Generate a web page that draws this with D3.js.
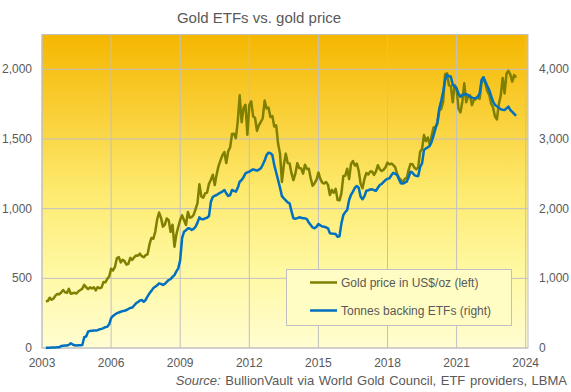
<!DOCTYPE html>
<html>
<head>
<meta charset="utf-8">
<script src="https://cdn.jsdelivr.net/npm/d3@7"></script>
<style>
  body { margin: 0; background: #fff; }
  svg { display: block; font-family: "Liberation Sans", Arial, sans-serif; }
  .tick-label { fill: #595959; font-size: 12px; }
</style>
</head>
<body>
<svg id="chart" width="571" height="392"></svg>
<script>
// monthly series, first point March 2003, last point August 2023
var startYear = 2003, startMonth = 3;

// gold price, US$/oz, month end (left axis)
var goldPrice = [
  335, 337, 361, 346, 355, 376, 388, 386, 398, 416,                  // 2003
  400, 396, 424, 389, 393, 396, 391, 407, 416, 426, 453, 436,        // 2004
  422, 435, 428, 436, 414, 437, 429, 433, 473, 471, 496, 513,        // 2005
  569, 556, 582, 644, 653, 614, 633, 624, 599, 604, 647, 632,        // 2006
  651, 664, 662, 677, 659, 651, 666, 672, 743, 790, 784, 834,        // 2007
  923, 972, 934, 871, 886, 930, 918, 833, 885, 727, 815, 870,        // 2008
  920, 952, 917, 883, 976, 935, 939, 956, 996, 1040, 1176, 1088,     // 2009
  1079, 1110, 1116, 1179, 1208, 1244, 1169, 1246, 1307, 1347, 1384, 1406, // 2010
  1327, 1411, 1439, 1536, 1537, 1506, 1629, 1814, 1620, 1722, 1746, 1531, // 2011
  1744, 1770, 1663, 1651, 1558, 1599, 1622, 1649, 1776, 1719, 1726, 1658, // 2012
  1665, 1589, 1598, 1467, 1395, 1192, 1315, 1395, 1327, 1324, 1253, 1205, // 2013
  1251, 1327, 1292, 1289, 1251, 1315, 1285, 1286, 1217, 1164, 1183, 1206, // 2014
  1260, 1214, 1187, 1180, 1191, 1171, 1098, 1135, 1114, 1142, 1062, 1060, // 2015
  1112, 1235, 1237, 1286, 1212, 1321, 1342, 1309, 1323, 1272, 1178, 1146, // 2016
  1213, 1256, 1245, 1266, 1266, 1242, 1268, 1312, 1283, 1270, 1280, 1297, // 2017
  1331, 1318, 1324, 1313, 1298, 1250, 1221, 1207, 1187, 1215, 1218, 1279, // 2018
  1321, 1319, 1295, 1282, 1296, 1409, 1428, 1528, 1485, 1511, 1460, 1523, // 2019
  1582, 1586, 1609, 1703, 1716, 1768, 1965, 1971, 1887, 1880, 1763, 1888, // 2020
  1864, 1717, 1691, 1768, 1900, 1763, 1808, 1814, 1743, 1781, 1785, 1806, // 2021
  1788, 1901, 1942, 1896, 1843, 1817, 1753, 1726, 1661, 1641, 1750, 1812, // 2022
  1938, 1827, 1969, 1990, 1962, 1912, 1960, 1942                      // 2023
];

// tonnes of gold backing ETFs (right axis)
var etfTonnes = [
  3, 4, 5, 6, 7, 8, 9, 10, 30, 33,                                   // 2003
  35, 36, 45, 67, 50, 38, 36, 38, 40, 42, 155, 165,                  // 2004
  234, 245, 248, 250, 252, 255, 268, 275, 285, 300, 306, 340,        // 2005
  430, 460, 480, 498, 510, 520, 530, 535, 545, 560, 575, 580,        // 2006
  610, 641, 660, 680, 689, 664, 690, 740, 785, 820, 860, 880,        // 2007
  900, 928, 920, 904, 920, 950, 976, 990, 1020, 1047, 1100, 1143,    // 2008
  1263, 1580, 1669, 1690, 1718, 1715, 1695, 1710, 1741, 1800, 1876, 1850, // 2009
  1847, 1860, 1870, 1894, 2100, 2171, 2185, 2196, 2215, 2230, 2244, 2268, // 2010
  2220, 2182, 2196, 2268, 2255, 2244, 2300, 2387, 2411, 2450, 2507, 2520, // 2011
  2531, 2550, 2565, 2555, 2545, 2560, 2579, 2630, 2690, 2770, 2804, 2795, // 2012
  2770, 2627, 2520, 2411, 2300, 2180, 2148, 2120, 2090, 2076, 1960, 1861, // 2013
  1855, 1865, 1876, 1870, 1862, 1861, 1850, 1800, 1765, 1730, 1718, 1740, // 2014
  1779, 1760, 1745, 1741, 1730, 1718, 1646, 1642, 1640, 1636, 1598, 1605, // 2015
  1789, 1909, 1950, 1981, 2124, 2200, 2244, 2300, 2325, 2300, 2172, 2135, // 2016
  2180, 2258, 2265, 2275, 2278, 2265, 2258, 2300, 2340, 2355, 2385, 2411, // 2017
  2430, 2435, 2480, 2516, 2500, 2483, 2420, 2363, 2360, 2375, 2387, 2450, // 2018
  2531, 2516, 2483, 2469, 2470, 2600, 2651, 2840, 2866, 2880, 2900, 2961, // 2019
  3050, 3150, 3248, 3440, 3550, 3679, 3847, 3918, 3905, 3894, 3780, 3750, // 2020
  3727, 3650, 3607, 3631, 3640, 3645, 3630, 3607, 3595, 3583, 3590, 3597, // 2021
  3655, 3847, 3886, 3822, 3760, 3703, 3620, 3535, 3488, 3470, 3450, 3426, // 2022
  3420, 3416, 3440, 3464, 3416, 3390, 3360, 3334                      // 2023
];

var yearTicks = [2003, 2006, 2009, 2012, 2015, 2018, 2021, 2024];
var priceTicks = [0, 500, 1000, 1500, 2000];
var tonneTicks = [0, 1000, 2000, 3000, 4000];

var seriesNames = ["Gold price in US$/oz (left)", "Tonnes backing ETFs (right)"];
var seriesColors = ["#808000", "#0070c0"];

var svg = d3.select("#chart");
var plot = { left: 42, right: 528, top: 34.5, bottom: 348 };

var x = d3.scaleLinear()
          .domain([2003, 2024.1])
          .range([plot.left, plot.right]);
var yPrice = d3.scaleLinear()
               .domain([0, 2250])
               .range([plot.bottom, plot.top]);
var yTonnes = d3.scaleLinear()
                .domain([0, 4500])
                .range([plot.bottom, plot.top]);

function monthTime(i) {
  return startYear + (startMonth - 1 + i) / 12;
}

// background gradient
var grad = svg.append("defs")
  .append("linearGradient")
    .attr("id", "bg")
    .attr("x1", 0).attr("y1", 0)
    .attr("x2", 0).attr("y2", 1);
[[0, "#f5b700"], [0.3, "#fad442"], [0.5, "#fdea6e"], [0.75, "#fff8a2"], [1, "#fffdd2"]].forEach(s => {
  grad.append("stop").attr("offset", s[0]).attr("stop-color", s[1]);
});

svg.append("rect")
    .attr("x", plot.left)
    .attr("y", plot.top)
    .attr("width", plot.right - plot.left)
    .attr("height", plot.bottom - plot.top)
    .attr("fill", "url(#bg)");

// grid
svg.append("g")
  .selectAll("line")
  .data(yearTicks)
  .enter().append("line")
    .attr("x1", d => x(d)).attr("x2", d => x(d))
    .attr("y1", plot.top).attr("y2", plot.bottom)
    .attr("stroke", "#c0c0c0");

svg.append("g")
  .selectAll("line")
  .data(priceTicks)
  .enter().append("line")
    .attr("x1", plot.left).attr("x2", plot.right)
    .attr("y1", d => yPrice(d)).attr("y2", d => yPrice(d))
    .attr("stroke", "#c0c0c0");

svg.append("rect")
    .attr("x", plot.left)
    .attr("y", plot.top)
    .attr("width", plot.right - plot.left)
    .attr("height", plot.bottom - plot.top)
    .attr("fill", "none")
    .attr("stroke", "#c0c0c0");

// lines
var priceLine = d3.line()
                  .x((d, i) => x(monthTime(i)))
                  .y(d => yPrice(d));
var tonneLine = d3.line()
                  .x((d, i) => x(monthTime(i)))
                  .y(d => yTonnes(d));

svg.append("path")
    .datum(goldPrice)
    .attr("d", priceLine)
    .attr("fill", "none")
    .attr("stroke", seriesColors[0])
    .attr("stroke-width", 2.5)
    .attr("stroke-linejoin", "round");

svg.append("path")
    .datum(etfTonnes)
    .attr("d", tonneLine)
    .attr("fill", "none")
    .attr("stroke", seriesColors[1])
    .attr("stroke-width", 2.5)
    .attr("stroke-linejoin", "round");

// axis labels
svg.append("g")
  .selectAll("text")
  .data(priceTicks)
  .enter().append("text")
    .classed("tick-label", true)
    .attr("x", 32)
    .attr("y", d => yPrice(d) + 4)
    .attr("text-anchor", "end")
    .text(d3.format(","));

svg.append("g")
  .selectAll("text")
  .data(tonneTicks)
  .enter().append("text")
    .classed("tick-label", true)
    .attr("x", 539)
    .attr("y", d => yTonnes(d) + 4)
    .attr("text-anchor", "start")
    .text(d3.format(","));

svg.append("g")
  .selectAll("text")
  .data(yearTicks)
  .enter().append("text")
    .classed("tick-label", true)
    .attr("x", d => x(d))
    .attr("y", 367)
    .attr("text-anchor", "middle")
    .text(d => d);

// title
svg.append("text")
    .attr("x", 259)
    .attr("y", 23)
    .attr("text-anchor", "middle")
    .attr("font-size", "15px")
    .attr("fill", "#595959")
    .text("Gold ETFs vs. gold price");

// legend
var legend = svg.append("g");
legend.append("rect")
    .attr("x", 286.5)
    .attr("y", 269.5)
    .attr("width", 225)
    .attr("height", 56)
    .attr("fill", "#fffcc4")
    .attr("stroke", "#c0c0c0");

seriesNames.forEach((name, i) => {
  var cy = 282.5 + i * 28;
  legend.append("line")
      .attr("x1", 310).attr("x2", 337)
      .attr("y1", cy).attr("y2", cy)
      .attr("stroke", seriesColors[i])
      .attr("stroke-width", 2.5);
  legend.append("text")
      .classed("tick-label", true)
      .attr("x", 341)
      .attr("y", cy + 4)
      .text(name);
});

// source note
var src = svg.append("text")
    .attr("x", 567)
    .attr("y", 385)
    .attr("text-anchor", "end")
    .attr("font-size", "13px")
    .attr("word-spacing", "1px")
    .attr("fill", "#595959");
src.append("tspan").attr("font-style", "italic").text("Source:");
src.append("tspan").text(" BullionVault via World Gold Council, ETF providers, LBMA");
</script>
</body>
</html>
